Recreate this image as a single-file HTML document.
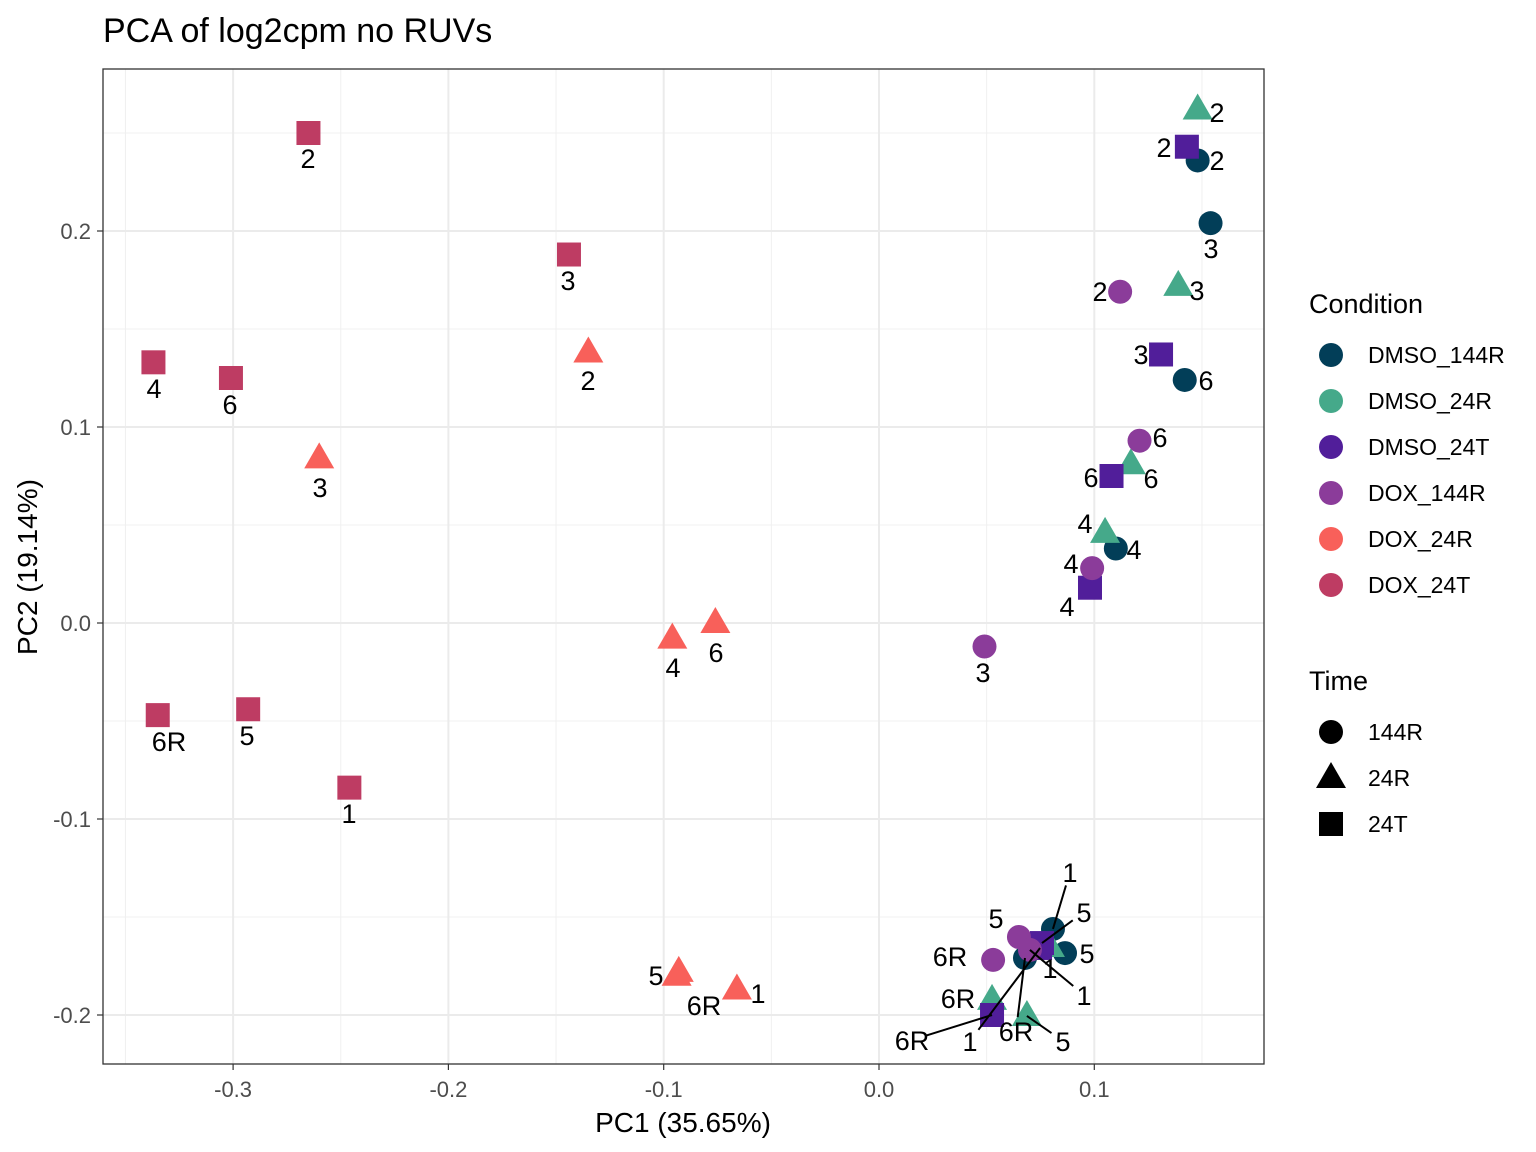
<!DOCTYPE html>
<html><head><meta charset="utf-8"><style>
body{margin:0;background:#fff;}
svg{display:block;font-family:"Liberation Sans",Arial,sans-serif;}
</style></head><body>
<svg id="chart" width="1536" height="1152" xmlns="http://www.w3.org/2000/svg"></svg>
<script>
// ---- data ----
const conditions = ["DMSO_144R","DMSO_24R","DMSO_24T","DOX_144R","DOX_24R","DOX_24T"];
const colors = ["#023E58","#45A98A","#511E9A","#8B3C9A","#F8605A","#BE3C63"];
const times = ["144R","24R","24T"];
const xTicks = [-0.3,-0.2,-0.1,0.0,0.1];
const yTicks = [-0.2,-0.1,0.0,0.1,0.2];
const xTickLabels = ["-0.3","-0.2","-0.1","0.0","0.1"];
const yTickLabels = ["-0.2","-0.1","0.0","0.1","0.2"];
const ptCond = [5,5,5,5,5,5,5, 4,4,4,4,4,4,4, 0,0,0,0,0,0,0, 1,1,1,1,1,1,1, 2,2,2,2,2,2,2, 3,3,3,3,3,3,3];
const ptTime = [2,2,2,2,2,2,2, 1,1,1,1,1,1,1, 0,0,0,0,0,0,0, 1,1,1,1,1,1,1, 2,2,2,2,2,2,2, 0,0,0,0,0,0,0];
const pc1 = [-0.265,-0.144,-0.337,-0.301,-0.335,-0.293,-0.246,
             -0.135,-0.260,-0.096,-0.076,-0.093,-0.094,-0.066,
             0.148,0.154,0.142,0.110,0.0808,0.0864,0.0678,
             0.148,0.139,0.117,0.105,0.0794,0.0525,0.0687,
             0.143,0.131,0.108,0.098,0.0757,0.0748,0.0525,
             0.112,0.121,0.099,0.049,0.0650,0.0530,0.0701];
const pc2 = [0.250,0.188,0.133,0.125,-0.047,-0.044,-0.084,
             0.138,0.084,-0.008,0.000,-0.178,-0.180,-0.187,
             0.236,0.204,0.124,0.038,-0.1561,-0.1684,-0.1709,
             0.262,0.172,0.081,0.046,-0.1653,-0.1923,-0.2005,
             0.243,0.137,0.075,0.018,-0.1633,-0.1658,-0.2000,
             0.169,0.093,0.028,-0.012,-0.1602,-0.1719,-0.1668];
const ptLabel = ["2","3","4","6","6R","5","1",
                 "2","3","4","6","5","6R","1",
                 "2","3","6","4","1","5","6R",
                 "2","3","6","4","1","6R","5",
                 "2","3","6","4","5","1","6R",
                 "2","6","4","3","5","6R","1"];
// label placement (layout, pixel centers)
const lblX = [308,568,154,230,169,247,349, 588,320,673,716,656,704,758, 1217,1211,1206,1134,1070,1087,1016, 1217,1197,1151,1085,1050,958,1063, 1164,1141,1091,1067,1084,970,912, 1100,1160,1071,983,996,950,1084];
const lblY = [158,280,388,404,741,735,813, 380,487,667,652,975,1005,993, 160,248,380,549,872,953,1031, 112,290,478,523,968,998,1041, 147,354,477,606,912,1041,1040, 291,437,563,672,918,956,995];
const leader = [0,0,0,0,0,0,0, 0,0,0,0,0,0,0, 0,0,0,0,1,0,1, 0,0,0,0,0,0,1, 0,0,0,0,1,1,1, 0,0,0,0,0,0,1];

const NS="http://www.w3.org/2000/svg";
const svg=document.getElementById("chart");
const L=103,R=1264,T=69,B=1064;
const X=v=>879+v*2153, Y=v=>623-v*1960;
function mk(tag,attrs,parent){const e=document.createElementNS(NS,tag);for(const k in attrs)e.setAttribute(k,attrs[k]);(parent||svg).appendChild(e);return e;}

let t=mk("text",{x:103,y:42,"font-size":34,fill:"#000"});t.textContent="PCA of log2cpm no RUVs";



const grid=mk("g",{});


[-0.35,-0.25,-0.15,-0.05,0.05,0.15].forEach(v=>mk("line",{x1:X(v),x2:X(v),y1:T,y2:B,stroke:"#f0f0f0","stroke-width":1},grid));
[-0.15,-0.05,0.05,0.15,0.25].forEach(v=>mk("line",{y1:Y(v),y2:Y(v),x1:L,x2:R,stroke:"#f0f0f0","stroke-width":1},grid));
xTicks.forEach(v=>mk("line",{x1:X(v),x2:X(v),y1:T,y2:B,stroke:"#ebebeb","stroke-width":2},grid));
yTicks.forEach(v=>mk("line",{y1:Y(v),y2:Y(v),x1:L,x2:R,stroke:"#ebebeb","stroke-width":2},grid));

xTicks.forEach((v,i)=>{mk("line",{x1:X(v),x2:X(v),y1:B,y2:B+6,stroke:"#333","stroke-width":1.2});
 const e=mk("text",{x:X(v),y:B+33,"text-anchor":"middle","font-size":22,fill:"#4d4d4d"});e.textContent=xTickLabels[i];
 
 });
yTicks.forEach((v,i)=>{mk("line",{x1:L-6,x2:L,y1:Y(v),y2:Y(v),stroke:"#333","stroke-width":1.2});
 const e=mk("text",{x:L-12,y:Y(v)+8,"text-anchor":"end","font-size":22,fill:"#4d4d4d"});e.textContent=yTickLabels[i];
 
 });

let xt=mk("text",{x:683,y:1132,"text-anchor":"middle","font-size":28});xt.textContent="PC1 (35.65%)";


let yt=mk("text",{x:37,y:567,"text-anchor":"middle","font-size":28,transform:"rotate(-90 37 567)"});yt.textContent="PC2 (19.14%)";



function shape(shp,cx,cy,col,g){
 if(shp===0) return mk("circle",{cx,cy,r:12,fill:col},g);
 if(shp===1) return mk("polygon",{points:`${cx},${cy-16} ${cx+15},${cy+10} ${cx-15},${cy+10}`,fill:col},g);
 return mk("rect",{x:cx-12,y:cy-12,width:24,height:24,fill:col},g);
}
const pts=mk("g",{});


const lbls=mk("g",{});
pc1.forEach((v,i)=>{
 const cx=X(v),cy=Y(pc2[i]);
 const p=shape(ptTime[i],cx,cy,colors[ptCond[i]],pts);
 
 
});
pc1.forEach((v,i)=>{
 const cx=X(v),cy=Y(pc2[i]);
 const lx=lblX[i], ly=lblY[i];
 if(leader[i]){
  const dx=cx-lx, dy=cy-ly, d=Math.hypot(dx,dy)||1;
  mk("line",{x1:cx,y1:cy,x2:lx+dx/d*14,y2:ly+dy/d*14,stroke:"#000","stroke-width":2},lbls);
 }
 const e=mk("text",{x:lx,y:ly+10,"text-anchor":"middle","font-size":27,fill:"#000"},lbls);e.textContent=ptLabel[i];
 
 
});

mk("rect",{x:L,y:T,width:R-L,height:B-T,fill:"none",stroke:"#333","stroke-width":1.3});

let lt=mk("text",{x:1309,y:313,"font-size":27});lt.textContent="Condition";


conditions.forEach((c,i)=>{
 const y=355+i*46;
 const g=mk("g",{});
 
 
 mk("circle",{cx:1331,cy:y,r:12,fill:colors[i]},g);
 const e=mk("text",{x:1368,y:y+8,"font-size":23},g);e.textContent=c;
});
let tt=mk("text",{x:1309,y:690,"font-size":27});tt.textContent="Time";


times.forEach((c,i)=>{
 const y=732+i*46;
 const g=mk("g",{});
 
 
 shape(i,1331,y,"#000",g);
 const e=mk("text",{x:1368,y:y+8,"font-size":23},g);e.textContent=c;
});
</script>
</body></html>
